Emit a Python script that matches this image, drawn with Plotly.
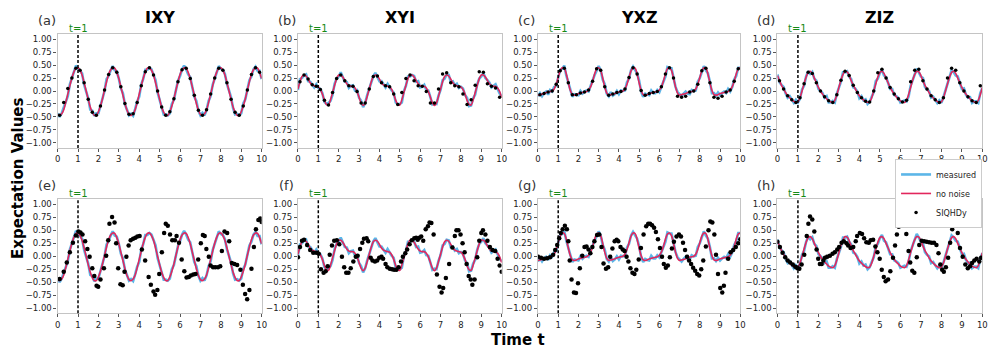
import plotly.graph_objects as go
from plotly.subplots import make_subplots

# time grid of the simulated / measured curves (step 0.1)
time = [round(0.1 * i, 1) for i in range(101)]
# SIQHDy points of the top row (every 0.2, starting at 0.1)
time_dots = [round(0.1 + 0.2 * i, 1) for i in range(50)]

PANELS = ['IXY', 'XYI', 'YXZ', 'ZIZ']
LABELS_TOP = ['(a)', '(b)', '(c)', '(d)']
LABELS_BOT = ['(e)', '(f)', '(g)', '(h)']

# ---- exact (no noise) curves ----
nn_ixy = [-0.45, -0.47, -0.44, -0.36, -0.22, -0.06, 0.10, 0.25, 0.37, 0.44, 0.45, 0.40, 0.31, 0.16, 0.00, -0.16, -0.31, -0.41, -0.47, -0.47,
          -0.40, -0.29, -0.15, 0.02, 0.18, 0.32, 0.41, 0.45, 0.44, 0.36, 0.24, 0.08, -0.08, -0.24, -0.37,
          -0.45, -0.47, -0.44, -0.36, -0.22, -0.06, 0.10, 0.25, 0.37, 0.44, 0.45, 0.40, 0.31, 0.16, 0.00, -0.16, -0.31, -0.41, -0.47, -0.47,
          -0.40, -0.29, -0.15, 0.02, 0.18, 0.32, 0.41, 0.45, 0.44, 0.36, 0.24, 0.08, -0.08, -0.24, -0.37,
          -0.45, -0.47, -0.44, -0.36, -0.22, -0.06, 0.10, 0.25, 0.37, 0.44, 0.45, 0.40, 0.31, 0.16, 0.00, -0.16, -0.31, -0.41, -0.47, -0.47,
          -0.40, -0.29, -0.15, 0.02, 0.18, 0.32, 0.41, 0.45, 0.44, 0.36, 0.24]
nn_xyi = [0.04, 0.18, 0.28, 0.31, 0.29, 0.23, 0.16, 0.12, 0.10, 0.09, 0.08, 0.03, -0.06, -0.18, -0.26, -0.27, -0.17, -0.03, 0.11, 0.24,
          0.31, 0.31, 0.27, 0.20, 0.14, 0.10, 0.09, 0.09, 0.06, -0.01, -0.12, -0.23, -0.28, -0.23, -0.10,
          0.04, 0.18, 0.28, 0.31, 0.29, 0.23, 0.16, 0.12, 0.10, 0.09, 0.08, 0.03, -0.06, -0.18, -0.26, -0.27, -0.17, -0.03, 0.11, 0.24,
          0.31, 0.31, 0.27, 0.20, 0.14, 0.10, 0.09, 0.09, 0.06, -0.01, -0.12, -0.23, -0.28, -0.23, -0.10,
          0.04, 0.18, 0.28, 0.31, 0.29, 0.23, 0.16, 0.12, 0.10, 0.09, 0.08, 0.03, -0.06, -0.18, -0.26, -0.27, -0.17, -0.03, 0.11, 0.24,
          0.31, 0.31, 0.27, 0.20, 0.14, 0.10, 0.09, 0.09, 0.06, -0.01, -0.12]
nn_yxz = [-0.08, -0.07, -0.06, -0.05, -0.03, -0.02, -0.01, 0.00, 0.04, 0.13, 0.26, 0.39, 0.45, 0.44, 0.33, 0.16, 0.01, -0.07, -0.08, -0.07,
          -0.05, -0.04, -0.03, -0.02, -0.01, 0.02, 0.08, 0.19, 0.33, 0.43, 0.45, 0.40, 0.25, 0.08, -0.04,
          -0.08, -0.07, -0.06, -0.05, -0.03, -0.02, -0.01, 0.00, 0.04, 0.13, 0.26, 0.39, 0.45, 0.44, 0.33, 0.16, 0.01, -0.07, -0.08, -0.07,
          -0.05, -0.04, -0.03, -0.02, -0.01, 0.02, 0.08, 0.19, 0.33, 0.43, 0.45, 0.40, 0.25, 0.08, -0.04,
          -0.08, -0.07, -0.06, -0.05, -0.03, -0.02, -0.01, 0.00, 0.04, 0.13, 0.26, 0.39, 0.45, 0.44, 0.33, 0.16, 0.01, -0.07, -0.08, -0.07,
          -0.05, -0.04, -0.03, -0.02, -0.01, 0.02, 0.08, 0.19, 0.33, 0.43, 0.45]
nn_ziz = [0.30, 0.20, 0.11, 0.04, -0.03, -0.09, -0.13, -0.17, -0.20, -0.22, -0.21, -0.13, 0.00, 0.14, 0.27, 0.36, 0.38, 0.34, 0.25, 0.16,
          0.07, 0.00, -0.06, -0.11, -0.15, -0.19, -0.21, -0.22, -0.18, -0.07, 0.07, 0.21, 0.32, 0.38, 0.37,
          0.30, 0.20, 0.11, 0.04, -0.03, -0.09, -0.13, -0.17, -0.20, -0.22, -0.21, -0.13, 0.00, 0.14, 0.27, 0.36, 0.38, 0.34, 0.25, 0.16,
          0.07, 0.00, -0.06, -0.11, -0.15, -0.19, -0.21, -0.22, -0.18, -0.07, 0.07, 0.21, 0.32, 0.38, 0.37,
          0.30, 0.20, 0.11, 0.04, -0.03, -0.09, -0.13, -0.17, -0.20, -0.22, -0.21, -0.13, 0.00, 0.14, 0.27, 0.36, 0.38, 0.34, 0.25, 0.16,
          0.07, 0.00, -0.06, -0.11, -0.15, -0.19, -0.21, -0.22, -0.18, -0.07, 0.07]

# ---- measured (noisy) curves ----
meas_ixy = [-0.43, -0.50, -0.43, -0.32, -0.24, -0.10, 0.13, 0.25, 0.34, 0.49, 0.44, 0.38, 0.34, 0.12, 0.01, -0.14, -0.36, -0.38, -0.48, -0.43,
            -0.43, -0.29, -0.13, 0.00, 0.23, 0.29, 0.40, 0.48, 0.40, 0.38, 0.24, 0.05, -0.04, -0.26, -0.36,
            -0.47, -0.44, -0.48, -0.35, -0.20, -0.11, 0.13, 0.24, 0.41, 0.41, 0.45, 0.42, 0.29, 0.21, -0.03, -0.17, -0.28, -0.45, -0.45, -0.47,
            -0.43, -0.25, -0.17, 0.03, 0.20, 0.29, 0.42, 0.49, 0.42, 0.32, 0.27, 0.08, -0.11, -0.19, -0.38,
            -0.47, -0.42, -0.47, -0.37, -0.19, -0.10, 0.12, 0.25, 0.34, 0.48, 0.43, 0.41, 0.33, 0.13, 0.01, -0.12, -0.33, -0.45, -0.44, -0.47,
            -0.43, -0.24, -0.16, 0.00, 0.21, 0.28, 0.42, 0.47, 0.39, 0.39, 0.23]
meas_xyi = [0.02, 0.23, 0.25, 0.30, 0.32, 0.19, 0.18, 0.12, 0.07, 0.13, 0.06, 0.04, -0.04, -0.21, -0.25, -0.23, -0.19, -0.07, 0.14, 0.24,
            0.28, 0.36, 0.26, 0.18, 0.17, 0.06, 0.10, 0.11, 0.01, 0.02, -0.13, -0.19, -0.31, -0.23, -0.08,
            0.06, 0.15, 0.29, 0.35, 0.27, 0.19, 0.19, 0.12, 0.07, 0.14, 0.07, 0.01, -0.03, -0.22, -0.25, -0.25, -0.22, 0.00, 0.10, 0.28,
            0.28, 0.31, 0.29, 0.18, 0.19, 0.07, 0.08, 0.12, 0.02, 0.01, -0.12, -0.26, -0.24, -0.25, -0.09,
            0.02, 0.21, 0.24, 0.32, 0.31, 0.18, 0.19, 0.11, 0.14, 0.06, 0.08, 0.05, -0.08, -0.13, -0.29, -0.28, -0.14, -0.07, 0.13, 0.24,
            0.28, 0.35, 0.25, 0.21, 0.16, 0.07, 0.10, 0.13, 0.04, -0.05, -0.09]
meas_yxz = [-0.10, -0.04, -0.10, -0.04, -0.01, -0.07, 0.02, -0.01, 0.08, 0.10, 0.26, 0.41, 0.43, 0.49, 0.30, 0.15, 0.04, -0.11, -0.06, -0.07,
            -0.08, 0.00, -0.05, -0.01, 0.01, -0.01, 0.09, 0.23, 0.31, 0.39, 0.48, 0.40, 0.22, 0.13, -0.05,
            -0.10, -0.02, -0.09, -0.06, 0.00, -0.06, 0.01, 0.00, 0.01, 0.17, 0.24, 0.40, 0.47, 0.41, 0.34, 0.20, -0.01, -0.11, -0.05, -0.07,
            -0.08, 0.01, -0.04, -0.04, 0.02, -0.02, 0.09, 0.21, 0.28, 0.46, 0.44, 0.44, 0.22, 0.08, -0.02,
            -0.06, -0.10, -0.05, -0.01, -0.05, -0.06, 0.02, 0.00, 0.01, 0.18, 0.25, 0.37, 0.48, 0.40, 0.34, 0.18, -0.04, -0.04, -0.09, -0.03,
            -0.08, -0.04, -0.01, -0.04, 0.04, -0.01, 0.07, 0.22, 0.29, 0.45, 0.45]
meas_ziz = [0.32, 0.17, 0.12, 0.08, -0.05, -0.13, -0.10, -0.17, -0.23, -0.17, -0.22, -0.15, 0.03, 0.10, 0.28, 0.38, 0.33, 0.37, 0.24, 0.20,
            0.04, 0.00, -0.04, -0.13, -0.10, -0.22, -0.22, -0.19, -0.22, -0.05, 0.07, 0.18, 0.36, 0.36, 0.38,
            0.28, 0.23, 0.07, 0.05, -0.01, -0.14, -0.10, -0.18, -0.16, -0.25, -0.21, -0.11, -0.02, 0.19, 0.24, 0.35, 0.41, 0.30, 0.27, 0.16,
            0.04, 0.04, -0.08, -0.10, -0.13, -0.22, -0.20, -0.18, -0.20, -0.11, 0.10, 0.21, 0.29, 0.43, 0.36,
            0.28, 0.25, 0.08, 0.03, 0.00, -0.13, -0.11, -0.17, -0.23, -0.18, -0.23, -0.12, 0.02, 0.11, 0.28, 0.40, 0.36, 0.30, 0.28, 0.16,
            0.04, 0.05, -0.07, -0.13, -0.12, -0.23, -0.20, -0.20, -0.23, -0.04, 0.06]

# ---- SIQHDy, top row (t = 1 reference run) ----
sq_top_ixy = [-0.47, -0.22, 0.05, 0.25, 0.44, 0.40, 0.16, -0.16, -0.41, -0.47, -0.29, 0.02, 0.32, 0.45, 0.36, 0.08, -0.24,
              -0.45, -0.44, -0.22, 0.10, 0.37, 0.45, 0.31, 0.00, -0.31, -0.47, -0.40, -0.15, 0.18, 0.41, 0.44, 0.24, -0.08, -0.37,
              -0.47, -0.36, -0.06, 0.25, 0.44, 0.40, 0.16, -0.16, -0.41, -0.47, -0.29, 0.02, 0.32, 0.45, 0.36]
sq_top_xyi = [0.18, 0.31, 0.23, 0.12, 0.09, 0.03, -0.18, -0.27, -0.03, 0.24, 0.31, 0.20, 0.10, 0.09, -0.01, -0.23, -0.23,
              0.04, 0.28, 0.29, 0.16, 0.10, 0.08, -0.06, -0.26, -0.03, 0.24, 0.31, 0.20, 0.10, 0.09, -0.01, -0.23, -0.23, 0.04,
              0.33, 0.35, 0.16, 0.10, 0.08, -0.06, -0.26, -0.17, 0.11, 0.37, 0.36, 0.14, 0.09, 0.06, -0.12]
sq_top_yxz = [-0.07, -0.05, -0.02, 0.00, 0.13, 0.39, 0.44, 0.16, -0.07, -0.07, -0.04, -0.02, 0.02, 0.19, 0.43, 0.40, 0.08,
              -0.08, -0.06, -0.03, -0.01, 0.04, 0.26, 0.45, 0.33, 0.01, -0.08, -0.05, -0.03, -0.01, 0.08, 0.33, 0.45, 0.25, -0.10,
              -0.12, -0.10, -0.02, 0.00, 0.13, 0.39, 0.44, 0.16, -0.12, -0.14, -0.10, -0.02, 0.02, 0.19, 0.43]
sq_top_ziz = [0.20, 0.04, -0.09, -0.17, -0.22, -0.13, 0.14, 0.36, 0.34, 0.16, 0.00, -0.11, -0.19, -0.22, -0.07, 0.21, 0.38,
              0.30, 0.11, -0.03, -0.13, -0.20, -0.21, 0.00, 0.35, 0.42, 0.25, 0.07, -0.06, -0.15, -0.21, -0.18, 0.18, 0.40, 0.42,
              0.20, 0.04, -0.09, -0.17, -0.22, -0.13, 0.25, 0.44, 0.40, 0.16, 0.00, -0.11, -0.19, -0.22, 0.10]

# ---- SIQHDy, bottom row ----
t_bot_ixy = [0.1, 0.3, 0.45, 0.6, 0.75, 0.9, 1.02, 1.12, 1.22, 1.35, 1.46, 1.57, 1.70, 1.80, 1.91, 1.99, 2.1, 2.27, 2.38, 2.48,
             2.54, 2.67, 2.79, 2.87, 2.97, 3.08, 3.19, 3.28, 3.37, 3.48, 3.58, 3.70, 3.81, 3.91, 4.02, 4.13, 4.29, 4.46, 4.57, 4.70,
             4.78, 4.89, 4.98, 5.11, 5.22, 5.30, 5.40, 5.51, 5.62, 5.75, 5.83, 5.95, 6.08, 6.21, 6.32, 6.43, 6.53, 6.65, 6.76, 6.89,
             7.02, 7.12, 7.21, 7.29, 7.41, 7.50, 7.62, 7.73, 7.86, 7.97, 8.05, 8.18, 8.31, 8.41, 8.54, 8.67, 8.80, 8.96, 9.08, 9.19,
             9.29, 9.40, 9.50, 9.62, 9.72, 9.84, 9.93, 10.0]
sq_bot_ixy = [-0.44, -0.30, -0.12, 0.08, 0.26, 0.40, 0.48, 0.46, 0.42, 0.29, 0.14, -0.01, -0.23, -0.38, -0.57, -0.59, -0.45, -0.23, 0.01, 0.31,
              0.63, 0.76, 0.65, 0.25, -0.23, -0.54, -0.56, -0.30, -0.01, 0.21, 0.31, 0.34, 0.36, 0.38, 0.39, 0.13, -0.08, -0.40, -0.55, -0.68,
              -0.74, -0.65, -0.34, 0.08, 0.45, 0.63, 0.59, 0.42, 0.31, 0.31, 0.39, 0.26, -0.06, -0.29, -0.41, -0.40, -0.37, -0.35, -0.34, -0.06,
              0.25, 0.41, 0.39, 0.14, -0.01, -0.18, -0.21, -0.21, -0.21, -0.19, 0.10, 0.48, 0.45, 0.29, -0.13, -0.15, -0.17, -0.26, -0.55, -0.73,
              -0.83, -0.65, -0.24, 0.18, 0.52, 0.70, 0.73, 0.66]
t_bot_xyi = [0.0, 0.1, 0.2, 0.3, 0.45, 0.6, 0.75, 0.9, 1.02, 1.13, 1.26, 1.36, 1.46, 1.56, 1.67, 1.78, 1.91, 2.03, 2.16, 2.27,
             2.37, 2.48, 2.59, 2.72, 2.84, 2.93, 3.05, 3.16, 3.24, 3.37, 3.45, 3.57, 3.66, 3.78, 3.89, 3.99, 4.10, 4.18, 4.30, 4.39,
             4.51, 4.62, 4.72, 4.83, 4.94, 5.06, 5.15, 5.27, 5.36, 5.48, 5.59, 5.71, 5.80, 5.88, 5.96, 6.05, 6.15, 6.27, 6.38, 6.46,
             6.55, 6.66, 6.82, 6.95, 7.05, 7.13, 7.26, 7.42, 7.58, 7.70, 7.78, 7.88, 7.98, 8.08, 8.18, 8.28, 8.38, 8.48, 8.56, 8.67,
             8.80, 8.90, 9.00, 9.08, 9.20, 9.30, 9.42, 9.55, 9.68, 9.80, 9.90, 10.0]
sq_bot_xyi = [-0.02, 0.18, 0.30, 0.32, 0.22, 0.12, 0.07, 0.07, 0.05, -0.25, -0.32, -0.29, -0.19, 0.03, 0.21, 0.30, 0.31, 0.23, -0.01, -0.21,
              -0.32, -0.32, -0.23, -0.10, -0.01, 0.01, 0.14, 0.26, 0.34, 0.35, 0.29, -0.03, -0.08, -0.10, -0.08, -0.03, -0.01, -0.05, -0.15, -0.21,
              -0.24, -0.25, -0.26, -0.26, -0.21, -0.10, -0.01, 0.06, 0.13, 0.23, 0.31, 0.35, 0.36, 0.32, 0.36, 0.38, 0.30, 0.52, 0.58, 0.65,
              0.64, 0.42, -0.35, -0.59, -0.70, -0.61, -0.42, -0.15, 0.17, 0.39, 0.50, 0.50, 0.42, 0.25, 0.08, -0.15, -0.38, -0.45, -0.55, -0.45,
              -0.02, 0.30, 0.45, 0.50, 0.42, 0.30, 0.18, 0.12, 0.10, -0.05, -0.18, -0.30]
t_bot_yxz = [0.0, 0.15, 0.3, 0.45, 0.6, 0.75, 0.85, 0.95, 1.05, 1.13, 1.22, 1.33, 1.43, 1.50, 1.57, 1.66, 1.78, 1.88, 1.98, 2.07,
             2.19, 2.30, 2.40, 2.50, 2.59, 2.69, 2.79, 2.92, 3.03, 3.14, 3.24, 3.36, 3.47, 3.57, 3.68, 3.79, 3.89, 3.97, 4.08, 4.19,
             4.28, 4.38, 4.47, 4.57, 4.67, 4.77, 4.86, 4.98, 5.09, 5.22, 5.35, 5.45, 5.54, 5.64, 5.74, 5.83, 5.93, 6.03, 6.13, 6.22,
             6.32, 6.42, 6.52, 6.62, 6.72, 6.85, 6.97, 7.07, 7.17, 7.27, 7.37, 7.47, 7.57, 7.67, 7.77, 7.87, 7.97, 8.07, 8.17, 8.30,
             8.43, 8.52, 8.62, 8.72, 8.80, 8.90, 9.01, 9.11, 9.19, 9.27, 9.40, 9.52, 9.65, 9.78, 9.90, 10.0]
sq_bot_yxz = [-0.01, -0.03, -0.05, -0.04, -0.02, 0.03, 0.12, 0.22, 0.35, 0.45, 0.52, 0.59, 0.52, 0.29, -0.08, -0.45, -0.70, -0.71, -0.52, -0.23,
              0.01, 0.18, 0.19, 0.13, 0.06, 0.18, 0.29, 0.41, 0.42, 0.18, -0.14, -0.24, -0.21, -0.01, 0.15, 0.29, 0.32, 0.29, 0.18, 0.13,
              0.10, -0.01, -0.10, -0.23, -0.32, -0.34, -0.26, -0.06, 0.16, 0.42, 0.58, 0.63, 0.63, 0.60, 0.55, 0.47, 0.33, 0.16, -0.01, -0.15,
              -0.22, -0.18, -0.02, 0.15, 0.28, 0.38, 0.42, 0.38, 0.26, 0.12, -0.01, -0.08, -0.15, -0.22, -0.28, -0.34, -0.37, -0.25, -0.08, 0.19,
              0.50, 0.67, 0.65, 0.42, 0.03, -0.34, -0.61, -0.70, -0.57, -0.32, -0.05, 0.08, 0.12, 0.18, 0.25, 0.33]
t_bot_ziz = [0.0, 0.12, 0.25, 0.38, 0.5, 0.62, 0.75, 0.87, 0.97, 1.07, 1.18, 1.31, 1.43, 1.51, 1.59, 1.70, 1.80, 1.91, 1.99, 2.07,
             2.16, 2.24, 2.32, 2.43, 2.56, 2.69, 2.80, 2.92, 3.01, 3.13, 3.24, 3.37, 3.45, 3.57, 3.70, 3.82, 3.89, 4.02, 4.13, 4.23,
             4.34, 4.46, 4.55, 4.67, 4.78, 4.88, 4.99, 5.09, 5.19, 5.28, 5.40, 5.51, 5.64, 5.74, 5.83, 5.92, 6.01, 6.13, 6.21, 6.29,
             6.40, 6.48, 6.58, 6.68, 6.80, 6.92, 7.04, 7.16, 7.28, 7.40, 7.52, 7.64, 7.76, 7.86, 7.95, 8.04, 8.12, 8.22, 8.33, 8.43,
             8.53, 8.61, 8.72, 8.80, 8.91, 9.04, 9.17, 9.29, 9.40, 9.50, 9.61, 9.72, 9.85, 9.94]
sq_bot_ziz = [0.28, 0.18, 0.07, -0.02, -0.08, -0.12, -0.16, -0.20, -0.23, -0.24, -0.16, 0.03, 0.39, 0.63, 0.77, 0.71, 0.48, 0.13, -0.05, -0.15,
              -0.15, -0.08, -0.03, -0.01, 0.01, 0.05, 0.08, 0.13, 0.18, 0.26, 0.29, 0.25, 0.21, 0.16, 0.18, 0.29, 0.39, 0.45, 0.43, 0.35,
              0.27, 0.26, 0.31, 0.32, 0.19, 0.08, -0.05, -0.26, -0.40, -0.48, -0.45, -0.29, -0.03, 0.21, 0.42, 0.57, 0.65, 0.66, 0.63, 0.43,
              0.10, -0.12, -0.28, -0.32, -0.02, 0.22, 0.30, 0.29, 0.28, 0.27, 0.26, 0.26, 0.22, 0.06, -0.16, -0.26, -0.30, -0.21, -0.03, 0.26,
              0.52, 0.63, 0.61, 0.45, 0.16, -0.01, -0.16, -0.23, -0.19, -0.13, -0.08, -0.05, -0.10, -0.03]

no_noise = {'IXY': nn_ixy, 'XYI': nn_xyi, 'YXZ': nn_yxz, 'ZIZ': nn_ziz}
measured = {'IXY': meas_ixy, 'XYI': meas_xyi, 'YXZ': meas_yxz, 'ZIZ': meas_ziz}
sq_top = {'IXY': sq_top_ixy, 'XYI': sq_top_xyi, 'YXZ': sq_top_yxz, 'ZIZ': sq_top_ziz}
sq_bot = {'IXY': (t_bot_ixy, sq_bot_ixy), 'XYI': (t_bot_xyi, sq_bot_xyi),
          'YXZ': (t_bot_yxz, sq_bot_yxz), 'ZIZ': (t_bot_ziz, sq_bot_ziz)}

BLUE = '#4aaee6'
RED = '#e2265c'
FONT = 'DejaVu Sans'

# the page body has an 8px margin, so the figure is sized to sit inside the window
W, H = 981, 340
X_DOMAINS = [(0.0479, 0.2576), (0.2949, 0.5043), (0.5416, 0.7495), (0.7877, 0.9983)]
Y_DOMAINS = [(0.5882, 0.9235), (0.1021, 0.4374)]

fig = make_subplots(rows=2, cols=4)

annotations = []
shapes = []
for row in (1, 2):
    for col, name in enumerate(PANELS, start=1):
        first = (row == 1 and col == 1)
        fig.add_trace(go.Scatter(
            x=time, y=measured[name], mode='lines', name='measured',
            line=dict(color=BLUE, width=2.6), opacity=0.9,
            legendgroup='m', showlegend=first,
        ), row=row, col=col)
        fig.add_trace(go.Scatter(
            x=time, y=no_noise[name], mode='lines', name='no noise',
            line=dict(color=RED, width=1.6, shape='spline', smoothing=0.8),
            legendgroup='n', showlegend=first,
        ), row=row, col=col)
        if row == 1:
            tx, ty = time_dots, sq_top[name]
            size = 3.5
        else:
            tx, ty = sq_bot[name]
            size = 4.5
        fig.add_trace(go.Scatter(
            x=tx, y=ty, mode='markers', name='SIQHDy',
            marker=dict(color='black', size=size),
            legendgroup='s', showlegend=first,
        ), row=row, col=col)

        n = (row - 1) * 4 + col
        sfx = '' if n == 1 else str(n)
        fig.layout['xaxis' + sfx].domain = X_DOMAINS[col - 1]
        fig.layout['yaxis' + sfx].domain = Y_DOMAINS[row - 1]

        # t = 1 marker
        shapes.append(dict(type='line', xref='x' + sfx, yref='y' + sfx + ' domain',
                           x0=1, x1=1, y0=0, y1=1,
                           line=dict(color='black', width=1.5, dash='3px,2px')))
        annotations.append(dict(text='t=1', xref='x' + sfx, yref='y' + sfx + ' domain',
                                x=1, y=1, xanchor='center', yanchor='bottom', showarrow=False, yshift=-2,
                                font=dict(family=FONT, size=10, color='#158a15')))
        labels = LABELS_TOP if row == 1 else LABELS_BOT
        annotations.append(dict(text=labels[col - 1], xref='x' + sfx + ' domain', yref='y' + sfx + ' domain',
                                x=0, y=1, xanchor='center', yanchor='middle', xshift=-11, yshift=14,
                                showarrow=False, font=dict(family=FONT, size=13, color='#333333')))
        if row == 1:
            annotations.append(dict(text='<b>' + name + '</b>', xref='x' + sfx + ' domain',
                                    yref='y' + sfx + ' domain', x=0.5, y=1, xanchor='center',
                                    yanchor='middle', yshift=17, showarrow=False,
                                    font=dict(family=FONT, size=16, color='black')))

annotations.append(dict(text='<b>Expectation Values</b>', xref='paper', yref='paper',
                        x=0.0071, y=0.5, xanchor='center', yanchor='middle', textangle=-90,
                        showarrow=False, font=dict(family=FONT, size=15, color='black')))
annotations.append(dict(text='<b>Time t</b>', xref='paper', yref='paper',
                        x=0.5209, y=0.0235, xanchor='center', yanchor='middle', showarrow=False,
                        font=dict(family=FONT, size=15, color='black')))

fig.update_xaxes(range=[0, 10], tickmode='array', tickvals=list(range(11)),
                 showgrid=False, zeroline=False, showline=True, mirror=True,
                 linecolor='#c4c4c4', linewidth=1.3, ticks='outside', ticklen=3,
                 tickcolor='#555555', tickfont=dict(family=FONT, size=8.5, color='#222222'))
fig.update_yaxes(range=[-1.1, 1.1], tickmode='array',
                 tickvals=[-1, -0.75, -0.5, -0.25, 0, 0.25, 0.5, 0.75, 1],
                 tickformat='.2f', showgrid=False, zeroline=False, showline=True, mirror=True,
                 linecolor='#c4c4c4', linewidth=1.3, ticks='outside', ticklen=3,
                 tickcolor='#555555', tickfont=dict(family=FONT, size=8.5, color='#222222'))

fig.update_layout(
    width=W, height=H,
    margin=dict(l=0, r=0, t=0, b=0),
    paper_bgcolor='white', plot_bgcolor='white',
    annotations=annotations, shapes=shapes,
    legend=dict(x=0.998, y=0.556, xanchor='right', yanchor='top',
                bgcolor='white', bordercolor='#cccccc', borderwidth=1,
                font=dict(family=FONT, size=8, color='#222222'),
                itemwidth=30, tracegroupgap=0),
)

fig.write_html('out.html')
